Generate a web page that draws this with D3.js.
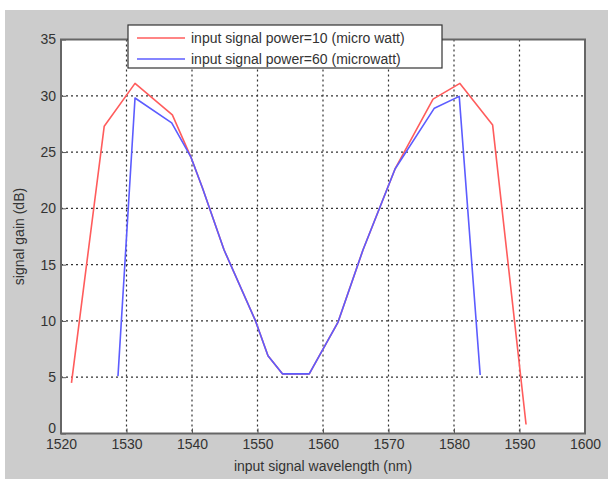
<!DOCTYPE html>
<html>
<head>
<meta charset="utf-8">
<script src="https://cdn.jsdelivr.net/npm/d3@7"></script>
<style>
  body { margin: 0; background: #fff; }
  svg { display: block; font-family: "Liberation Sans", Arial, sans-serif; }
</style>
</head>
<body>
<svg id="chart" width="608" height="479"></svg>
<script>
// values
const wavelengthRed = [1521.6, 1526.6, 1531.3, 1537.0, 1539.8, 1541.6, 1544.9, 1549.7, 1551.6, 1553.8, 1557.9, 1562.3, 1566.1, 1571.0, 1576.8, 1580.9, 1585.9, 1591.0];
const gainRed       = [4.5, 27.3, 31.1, 28.3, 24.6, 21.8, 16.3, 10.0, 6.9, 5.3, 5.3, 9.9, 16.3, 23.5, 29.7, 31.1, 27.4, 0.8];
const wavelengthBlue = [1528.7, 1531.3, 1536.9, 1539.8, 1541.6, 1544.9, 1549.7, 1551.6, 1553.8, 1557.9, 1562.3, 1566.1, 1571.0, 1577.0, 1580.8, 1584.0];
const gainBlue       = [5.1, 29.8, 27.6, 24.6, 21.8, 16.3, 10.0, 6.9, 5.3, 5.3, 9.9, 16.3, 23.5, 28.9, 29.95, 5.2];
const xTicks = [1520, 1530, 1540, 1550, 1560, 1570, 1580, 1590, 1600];
const yTicks = [0, 5, 10, 15, 20, 25, 30, 35];
const seriesNames = ["input signal power=10 (micro watt)", "input signal power=60 (microwatt)"];
const seriesColors = ["#ff5c5c", "#5c5cff"];

const svg = d3.select('#chart');

// gray figure background
svg.append('rect').attr('x', 5).attr('y', 10).attr('width', 603).attr('height', 469).attr('fill', '#cccccc');

const x = d3.scaleLinear().domain([1520, 1600]).range([61, 585]);
const y = d3.scaleLinear().domain([0, 35]).range([433.5, 39.5]);

svg.append('rect')
   .attr('x', x(1520)).attr('y', y(35))
   .attr('width', x(1600) - x(1520)).attr('height', y(0) - y(35))
   .attr('fill', '#fff');

// dotted grid
const grid = svg.append('g').attr('stroke', '#333').attr('stroke-width', 1.2).attr('stroke-dasharray', '2,3');
grid.selectAll('line.v').data(xTicks.slice(1, -1)).enter().append('line')
    .attr('x1', d => x(d)).attr('x2', d => x(d))
    .attr('y1', y(35)).attr('y2', y(0));
grid.selectAll('line.h').data(yTicks.slice(1, -1)).enter().append('line')
    .attr('x1', x(1520)).attr('x2', x(1600))
    .attr('y1', d => y(d)).attr('y2', d => y(d));

// axes (ticks inside, like matlab)
const xAxis = svg.append('g').attr('transform', `translate(0,${y(0)})`)
  .call(d3.axisBottom(x).tickValues(xTicks).tickFormat(d3.format('d')).tickSizeInner(-5).tickSizeOuter(0).tickPadding(6));
const yAxis = svg.append('g').attr('transform', `translate(${x(1520)},0)`)
  .call(d3.axisLeft(y).tickValues(yTicks).tickSizeInner(-5).tickSizeOuter(0).tickPadding(5));
[xAxis, yAxis].forEach(a => {
  a.select('.domain').remove();
  a.selectAll('line').attr('stroke', '#555');
  a.selectAll('text').attr('font-size', 14).attr('fill', '#333').attr('font-family', '"Liberation Sans", Arial, sans-serif');
});
// the "0" sits tight above "1520" in the original
yAxis.selectAll('.tick text').filter(d => d === 0).attr('dy', '-0.05em');

// plot box
svg.append('rect')
   .attr('x', x(1520)).attr('y', y(35))
   .attr('width', x(1600) - x(1520)).attr('height', y(0) - y(35))
   .attr('fill', 'none').attr('stroke', '#666').attr('stroke-width', 2);

// curves
const line = d3.line().x(d => x(d[0])).y(d => y(d[1]));
const seriesData = [
  d3.zip(wavelengthRed, gainRed),
  d3.zip(wavelengthBlue, gainBlue)
];
seriesData.forEach((pts, i) => {
  svg.append('path').datum(pts)
     .attr('d', line)
     .attr('fill', 'none')
     .attr('stroke', seriesColors[i])
     .attr('stroke-width', 1.6)
     .attr('stroke-linejoin', 'round');
});

// legend
const leg = svg.append('g').attr('transform', 'translate(128,25)');
leg.append('rect').attr('width', 314).attr('height', 43)
   .attr('fill', '#fff').attr('stroke', '#333').attr('stroke-width', 1.2);
seriesNames.forEach((name, i) => {
  const ly = 13 + i * 21;
  leg.append('line').attr('x1', 9).attr('x2', 57).attr('y1', ly).attr('y2', ly)
     .attr('stroke', seriesColors[i]).attr('stroke-width', 1.6);
  leg.append('text').attr('x', 63).attr('y', ly + 5)
     .attr('font-size', 14).attr('fill', '#333').text(name);
});

// axis titles
svg.append('text').attr('x', (x(1520) + x(1600)) / 2).attr('y', 471)
   .attr('text-anchor', 'middle').attr('font-size', 14).attr('fill', '#333')
   .text('input signal wavelength (nm)');
svg.append('text')
   .attr('transform', `translate(24,${(y(0) + y(35)) / 2}) rotate(-90)`)
   .attr('text-anchor', 'middle').attr('font-size', 14).attr('fill', '#333')
   .text('signal gain (dB)');
</script>
</body>
</html>
